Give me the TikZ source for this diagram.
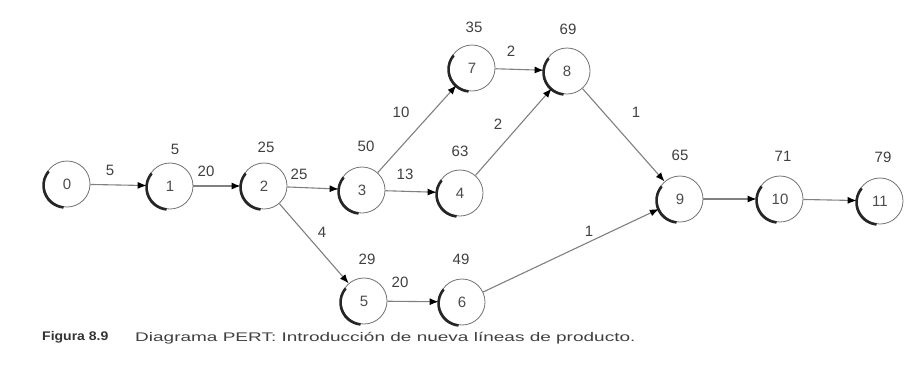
\documentclass[tikz,border=0pt]{standalone}
\usepackage{fontspec}
\setmainfont{Liberation Sans}
\usetikzlibrary{arrows.meta}
\begin{document}
\begin{tikzpicture}[x=1pt,y=-1pt,
  ev/.style={circle,draw=black!55,line width=0.8pt,minimum size=46pt,inner sep=0pt,font=\fontsize{15}{15}\selectfont,text=black!70},
  tm/.style={font=\fontsize{15}{15}\selectfont,text=black!75},
  lb/.style={font=\fontsize{15}{15}\selectfont,text=black!75},
  ar/.style={draw=black!50,line width=1.1pt,-{Latex[length=9pt,width=7pt,color=black]}}]
\useasboundingbox (0,0) rectangle (921,381);
\fill[white] (0,0) rectangle (921,381);
\node[ev] (n0) at (67,184) {0};
\node[ev] (n1) at (170,186) {1};
\node[ev] (n2) at (264,186) {2};
\node[ev] (n3) at (362,190) {3};
\node[ev] (n4) at (460,193) {4};
\node[ev] (n5) at (364,301) {5};
\node[ev] (n6) at (462,302) {6};
\node[ev] (n7) at (472,68) {7};
\node[ev] (n8) at (567,71) {8};
\node[ev] (n9) at (680,199) {9};
\node[ev] (n10) at (780,199) {10};
\node[ev] (n11) at (880,201) {11};
\foreach \n in {n0,n1,n2,n3,n4,n5,n6,n7,n8,n9,n10,n11}
  \draw[line width=2.6pt,black!85] ([shift={(-1.5,1.5)}]\n.center) ++(140:22pt) arc[start angle=140,end angle=265,radius=22pt];
% times above nodes
\node[tm] (t1) at (175,149) {5};
\node[tm] (t2) at (266,147) {25};
\node[tm] (t3) at (366,146) {50};
\node[tm] (t4) at (460,151) {63};
\node[tm] (t5) at (367,259) {29};
\node[tm] (t6) at (461,259) {49};
\node[tm] (t7) at (474,27) {35};
\node[tm] (t8) at (568,29) {69};
\node[tm] (t9) at (680,155) {65};
\node[tm] (t10) at (783,156) {71};
\node[tm] (t11) at (883,157) {79};
% arrows
\draw[ar] (n0) -- (n1);
\draw[ar] (n1) -- (n2);
\draw[ar] (n2) -- (n3);
\draw[ar] (n2) -- (n5);
\draw[ar] (n3) -- (n7);
\draw[ar] (n3) -- (n4);
\draw[ar] (n4) -- (n8);
\draw[ar] (n7) -- (n8);
\draw[ar] (n8) -- (n9);
\draw[ar] (n5) -- (n6);
\draw[ar] (n6) -- (n9);
\draw[ar] (n9) -- (n10);
\draw[ar] (n10) -- (n11);
% edge labels
\node[lb] (l01) at (110,170) {5};
\node[lb] (l12) at (206,171) {20};
\node[lb] (l23) at (299,174) {25};
\node[lb] (l25) at (322,232) {4};
\node[lb] (l37) at (401,112) {10};
\node[lb] (l34) at (405,174) {13};
\node[lb] (l48) at (498,124) {2};
\node[lb] (l78) at (511,51) {2};
\node[lb] (l89) at (636,112) {1};
\node[lb] (l69) at (589,231) {1};
\node[lb] (l56) at (400,282) {20};
% caption
\node[anchor=west,inner sep=0pt,font=\fontsize{12.5}{12.5}\selectfont\bfseries,text=black!80] (cap1) at (42,337) {\scalebox{1.12}[1]{Figura 8.9}};
\node[anchor=west,inner sep=0pt,font=\fontsize{12.5}{12.5}\selectfont,text=black!75] (cap2) at (135,338) {\scalebox{1.52}[1]{Diagrama PERT: Introducción de nueva líneas de producto.}};
\end{tikzpicture}
\end{document}
